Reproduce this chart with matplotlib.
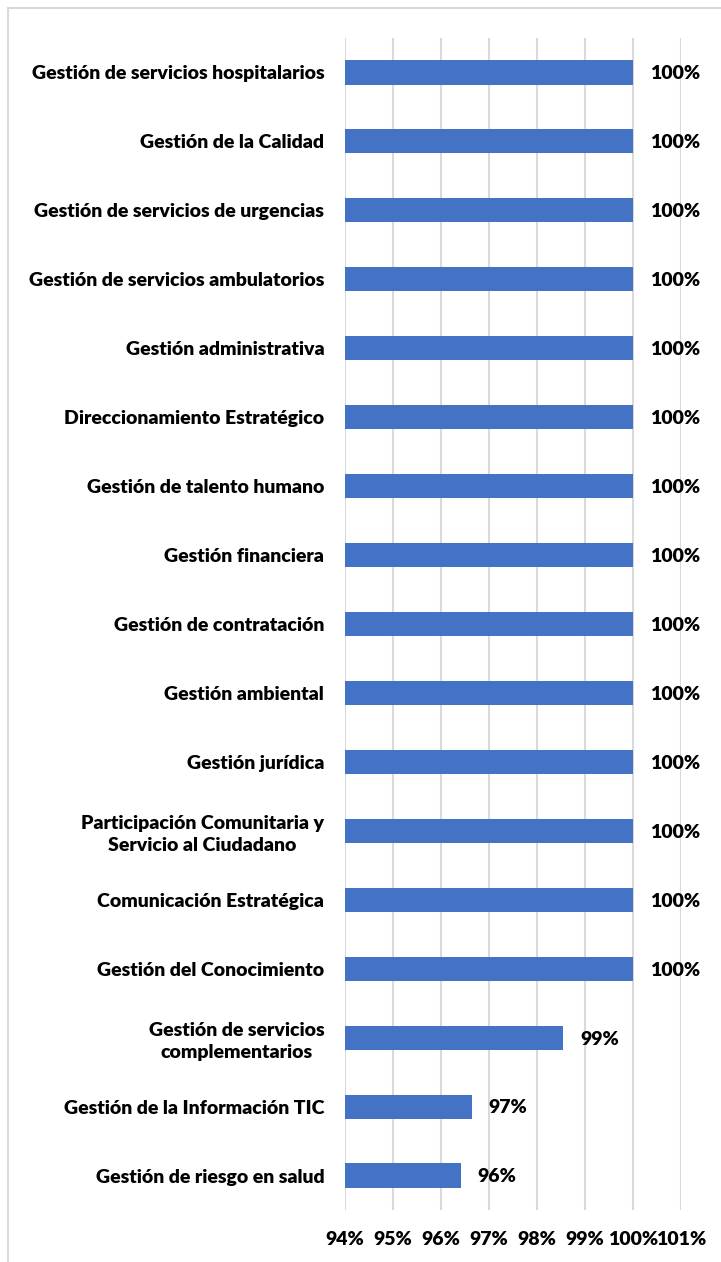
import matplotlib.pyplot as plt
import numpy as np

# datos del grafico (de arriba hacia abajo)
procesos = ["Gestión de servicios hospitalarios",
            "Gestión de la Calidad",
            "Gestión de servicios de urgencias",
            "Gestión de servicios ambulatorios",
            "Gestión administrativa",
            "Direccionamiento Estratégico",
            "Gestión de talento humano",
            "Gestión financiera",
            "Gestión de contratación",
            "Gestión ambiental",
            "Gestión jurídica",
            "Participación Comunitaria y\nServicio al Ciudadano",
            "Comunicación Estratégica",
            "Gestión del Conocimiento",
            "Gestión de servicios\ncomplementarios",
            "Gestión de la Información TIC",
            "Gestión de riesgo en salud"]
valores = [1.0, 1.0, 1.0, 1.0, 1.0, 1.0, 1.0, 1.0, 1.0, 1.0, 1.0, 1.0, 1.0, 1.0,
           0.9855, 0.9665, 0.9642]
etiquetas = ["100%"] * 14 + ["99%", "97%", "96%"]
ticks = [0.94, 0.95, 0.96, 0.97, 0.98, 0.99, 1.00, 1.01]
ticks_txt = ["94%", "95%", "96%", "97%", "98%", "99%", "100%", "101%"]

plt.rcParams['font.family'] = ['Lato', 'DejaVu Sans']
W, H = 721, 1262
fig = plt.figure(figsize=(W/100, H/100), dpi=100)
ax = fig.add_axes([345/W, 1-1210/H, (681-345)/W, (1210-38)/H])

y = np.arange(len(procesos))
ax.barh(y, np.array(valores) - 0.94, left=0.94, height=0.35, color="#4472C4", zorder=3)
ax.set_ylim(len(procesos)-0.5, -0.5)
ax.set_xlim(0.94, 1.01)
ax.set_xticks(ticks)
ax.set_xticklabels(ticks_txt, fontsize=14, fontweight="heavy")
ax.set_yticks(y)
ax.set_yticklabels(procesos, fontsize=14, fontweight="heavy", multialignment="center",
                   linespacing=1.35)
ax.tick_params(axis="x", length=0, pad=15)
ax.tick_params(axis="y", length=0, pad=15)
ax.grid(axis="x", color="#D9D9D9", linewidth=1.5, zorder=0)
for s in ax.spines.values():
    s.set_visible(False)

for i in range(len(valores)):
    ax.annotate(etiquetas[i], (valores[i], y[i]), xytext=(12, -1), textcoords="offset points",
                ha="left", va="center", fontsize=14, fontweight="heavy")

# marco del grafico
fig.add_artist(plt.Line2D([8/W, 8/W], [0, 1-8/H], color="#D9D9D9", linewidth=1.5))
fig.add_artist(plt.Line2D([8/W, 1], [1-8/H, 1-8/H], color="#D9D9D9", linewidth=1.5))

plt.savefig("out.png", dpi=100)
